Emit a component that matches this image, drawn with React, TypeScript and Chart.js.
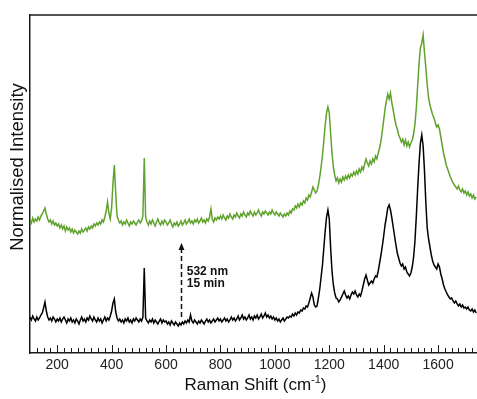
import { useEffect, useRef } from "react";
import { Chart, registerables } from "chart.js";

Chart.register(...registerables);

// Raman shift sampling (cm^-1): first point and spacing
const SHIFT_START = 100;
const SHIFT_STEP = 5;

// Normalised intensity (a.u.), spectrum after 15 min (green), 100..1740 cm^-1 every 5
const GREEN_15MIN = [
  133,130,135,131,134,132,136,133,137,139,142,145,139,134,131,133,129,132,128,130,
  127,129,125,128,124,127,122,126,123,125,121,124,120,123,121,119,122,120,124,121,
  123,125,122,126,124,127,125,129,127,130,128,131,129,133,131,136,142,151,140,134,
  145,170,188,160,137,133,130,132,128,131,129,133,130,127,131,129,132,130,128,131,
  133,130,132,137,195,136,131,128,132,129,133,130,127,131,134,130,128,132,129,133,
  131,128,130,133,129,126,130,128,131,127,129,132,128,130,133,129,131,134,130,132,
  129,133,131,134,130,132,135,131,133,130,134,132,136,144,134,131,135,133,136,134,
  137,134,138,135,133,137,135,139,136,134,138,136,140,137,135,139,137,141,138,136,
  140,138,142,139,137,141,138,140,143,139,137,141,139,142,140,138,141,139,143,140,
  138,141,139,137,140,138,136,139,137,140,138,142,140,144,143,147,145,149,146,150,
  148,152,150,155,153,158,156,161,166,163,160,162,168,176,186,198,212,228,240,246,
  240,220,200,186,178,172,175,170,174,171,176,173,177,174,178,175,179,177,181,178,
  182,179,184,181,186,183,189,194,190,187,192,189,194,191,197,194,200,205,212,222,
  233,244,252,259,254,260,250,243,235,228,224,218,215,211,214,208,213,207,211,206,
  210,213,219,229,245,268,290,305,310,318,300,285,268,255,248,243,238,235,230,226,
  228,224,216,208,200,194,188,184,180,176,173,170,168,166,164,167,163,161,164,160,
  162,158,161,157,159,155,158,154,156,
];

// Normalised intensity (a.u.), initial spectrum (black)
const BLACK_START = [
  36,33,37,34,32,36,33,35,38,40,45,51,42,36,33,35,32,36,34,31,
  34,32,35,31,34,36,33,30,34,32,35,31,33,30,34,32,29,33,36,32,
  34,31,35,33,37,34,32,36,33,31,35,32,34,30,33,36,32,35,33,37,
  42,50,54,41,35,32,34,31,33,30,34,32,35,31,33,30,34,32,35,33,
  31,34,32,36,85,35,32,30,33,31,34,30,33,31,29,32,34,30,33,31,
  32,29,31,28,32,30,28,31,29,27,30,28,31,29,32,30,33,31,38,32,
  30,33,31,29,32,30,33,31,29,32,34,31,33,30,32,34,31,33,35,32,
  34,31,33,35,32,34,31,33,36,33,35,32,34,37,33,35,38,34,36,33,
  35,38,34,36,33,37,35,38,34,36,39,35,37,40,36,38,35,37,34,36,
  33,35,32,34,31,33,35,32,34,36,35,37,36,39,37,40,38,41,40,43,
  42,45,44,47,46,50,55,60,56,48,46,47,55,64,76,88,105,122,136,143,
  134,105,82,68,60,55,54,51,53,56,59,62,58,55,57,54,58,61,59,62,
  58,56,59,57,62,68,74,78,73,68,70,72,70,74,77,76,82,90,98,107,
  117,128,136,145,148,143,135,126,117,108,100,95,90,87,89,84,86,81,79,77,
  80,86,96,112,137,165,190,210,218,207,182,150,125,114,106,98,92,88,86,84,
  89,86,79,74,68,64,61,58,56,54,55,52,50,52,49,47,49,46,48,45,
  46,44,46,43,42,44,41,43,40,
];

const X_TICKS = [200, 400, 600, 800, 1000, 1200, 1400, 1600];
const X_MIN = 100;
const X_MAX = 1743;
const Y_MIN = 0;
const Y_MAX = 338;

// annotation (data units)
const ARROW_X = 655;
const ARROW_FROM = 36;
const ARROW_TO = 110;
const NOTE_LINES = ["532 nm", "15 min"];
const NOTE_X = 676;
const NOTE_Y = [81, 69];

const X_TITLE = "Raman Shift (cm";
const X_TITLE_SUP = "-1";
const Y_TITLE = "Normalised Intensity";

const FONT = "'Liberation Sans', Arial, Helvetica, sans-serif";

const toPoints = (arr: number[]) =>
  arr.map((v, i) => ({ x: SHIFT_START + i * SHIFT_STEP, y: v }));

const decor = {
  id: "decor",
  afterDraw(chart: any) {
    const { ctx, chartArea: a, scales } = chart;
    const x = scales.x;
    const y = scales.y;
    ctx.save();
    // top frame line
    ctx.strokeStyle = "#1a1a1a";
    ctx.lineWidth = 1.5;
    ctx.beginPath();
    ctx.moveTo(a.left, a.top);
    ctx.lineTo(a.right, a.top);
    ctx.stroke();
    // inward ticks
    ctx.lineWidth = 1;
    ctx.beginPath();
    for (let v = 125; v <= X_MAX; v += 25) {
      const px = Math.round(x.getPixelForValue(v)) + 0.5;
      const len = v % 200 === 0 ? 8 : 5;
      ctx.moveTo(px, a.bottom);
      ctx.lineTo(px, a.bottom - len);
    }
    ctx.stroke();
    // dashed arrow
    const ax = Math.round(x.getPixelForValue(ARROW_X)) + 0.5;
    const y0 = y.getPixelForValue(ARROW_FROM);
    const y1 = y.getPixelForValue(ARROW_TO);
    ctx.strokeStyle = "#111";
    ctx.lineWidth = 1.5;
    ctx.setLineDash([5, 3]);
    ctx.beginPath();
    ctx.moveTo(ax, y0);
    ctx.lineTo(ax, y1 + 6);
    ctx.stroke();
    ctx.setLineDash([]);
    ctx.fillStyle = "#111";
    ctx.beginPath();
    ctx.moveTo(ax, y1);
    ctx.lineTo(ax - 3, y1 + 7);
    ctx.lineTo(ax + 3, y1 + 7);
    ctx.closePath();
    ctx.fill();
    // note text
    ctx.font = `bold 12px ${FONT}`;
    ctx.textAlign = "left";
    ctx.textBaseline = "middle";
    NOTE_LINES.forEach((t, i) => {
      ctx.fillText(t, x.getPixelForValue(NOTE_X), y.getPixelForValue(NOTE_Y[i]));
    });
    // x title with superscript
    ctx.fillStyle = "#111";
    ctx.textBaseline = "alphabetic";
    ctx.font = `17px ${FONT}`;
    const w1 = ctx.measureText(X_TITLE).width;
    const w3 = ctx.measureText(")").width;
    ctx.font = `11px ${FONT}`;
    const w2 = ctx.measureText(X_TITLE_SUP).width;
    const cx = (a.left + a.right) / 2 + 2;
    let sx = cx - (w1 + w2 + w3) / 2;
    const by = 390;
    ctx.font = `17px ${FONT}`;
    ctx.fillText(X_TITLE, sx, by);
    sx += w1;
    ctx.font = `11px ${FONT}`;
    ctx.fillText(X_TITLE_SUP, sx, by - 7);
    sx += w2;
    ctx.font = `17px ${FONT}`;
    ctx.fillText(")", sx, by);
    // y title
    ctx.save();
    ctx.font = `18.5px ${FONT}`;
    ctx.translate(23, 167);
    ctx.rotate(-Math.PI / 2);
    ctx.textAlign = "center";
    ctx.fillText(Y_TITLE, 0, 0);
    ctx.restore();
    ctx.restore();
  },
};

export default function App() {
  const ref = useRef<HTMLCanvasElement | null>(null);
  useEffect(() => {
    if (!ref.current) return;
    const chart = new Chart(ref.current, {
      type: "line",
      data: {
        datasets: [
          {
            label: "15 min",
            data: toPoints(GREEN_15MIN),
            borderColor: "#5fa22c",
            borderWidth: 1.5,
            pointRadius: 0,
            tension: 0,
          },
          {
            label: "0 min",
            data: toPoints(BLACK_START),
            borderColor: "#000000",
            borderWidth: 1.5,
            pointRadius: 0,
            tension: 0,
          },
        ],
      },
      options: {
        animation: false,
        responsive: false,
        events: [],
        layout: { padding: { left: 30, top: 15, right: 0, bottom: 0 } },
        plugins: { legend: { display: false }, tooltip: { enabled: false } },
        scales: {
          x: {
            type: "linear",
            min: X_MIN,
            max: X_MAX,
            afterBuildTicks: (s: any) => {
              s.ticks = X_TICKS.map((v) => ({ value: v }));
            },
            afterFit: (s: any) => {
              s.height = 46;
            },
            grid: { display: false, drawTicks: false },
            border: { display: true, color: "#1a1a1a", width: 1.5 },
            ticks: {
              padding: 4,
              color: "#222",
              font: { family: FONT, size: 14 },
              maxRotation: 0,
              autoSkip: false,
              callback: (v: any) => String(v),
            },
          },
          y: {
            type: "linear",
            min: Y_MIN,
            max: Y_MAX,
            afterFit: (s: any) => {
              s.width = 0;
            },
            grid: { display: false, drawTicks: false },
            border: { display: true, color: "#1a1a1a", width: 1.5 },
            ticks: { display: false },
          },
        },
      },
      plugins: [decor],
    });
    return () => chart.destroy();
  }, []);
  return (
    <div style={{ position: "absolute", left: 0, top: 0, width: 477, height: 399, background: "#fff" }}>
      <canvas ref={ref} width={477} height={399} style={{ width: 477, height: 399 }} />
    </div>
  );
}
